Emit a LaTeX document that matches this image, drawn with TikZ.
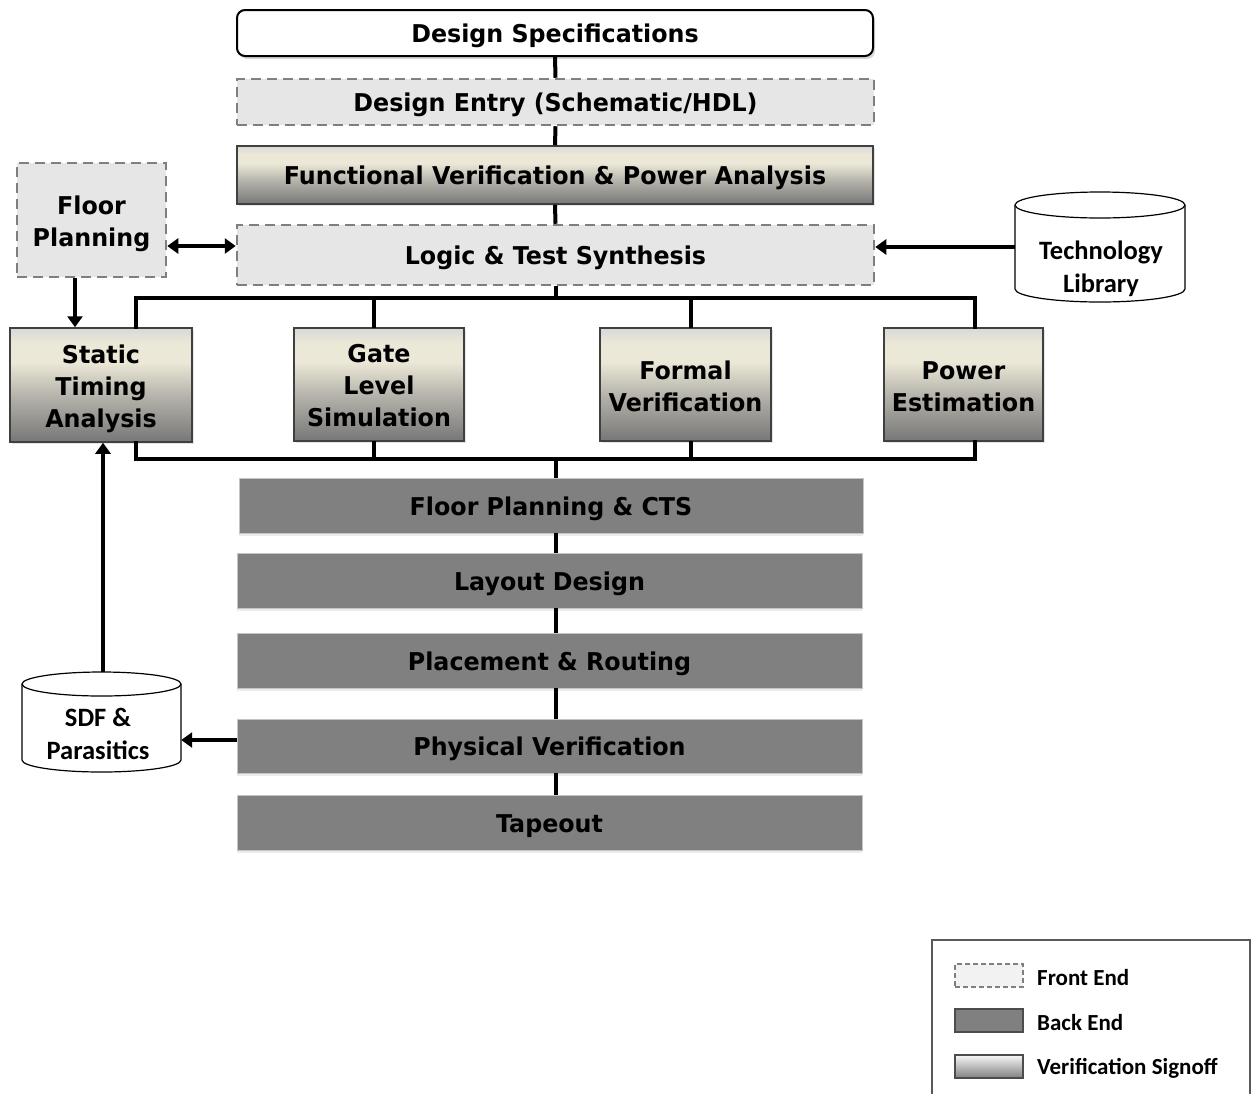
\documentclass[tikz,border=0pt]{standalone}
\usepackage{fontspec}
\newfontfamily\bxfont[FakeStretch=0.97]{DejaVu Sans}
\newfontfamily\calfont{Carlito}
\usetikzlibrary{arrows.meta,shadows}

\definecolor{fegray}{HTML}{E6E6E6}
\definecolor{dashgray}{HTML}{7F7F7F}
\definecolor{begray}{HTML}{808080}
\definecolor{beedge}{HTML}{C4C4C4}
\definecolor{vtop}{HTML}{D8D8D8}
\definecolor{vcream}{HTML}{ECE8D7}
\definecolor{vmid}{HTML}{B4B2AA}
\definecolor{vbot}{HTML}{777777}

% vertical sign-off shading: light grey top, cream band, dark grey bottom
\pgfdeclareverticalshading{vsig}{100bp}{
  color(0bp)=(vbot); color(25bp)=(vbot); color(45bp)=(vmid);
  color(60bp)=(vcream); color(68bp)=(vcream); color(75bp)=(vtop); color(100bp)=(vtop)}

% invisible struts that lower the first text line a little inside its box
\newcommand\lowerstrut{\rule{0pt}{24.5pt}}
\newcommand\firstline[1]{\rule{0pt}{#1}}

\tikzset{
  lbl/.style={font=\bxfont\bfseries\fontsize{24.5}{32}\selectfont, align=center,
    text=black, inner sep=0pt},
  onelbl/.style={execute at begin node=\lowerstrut},
  specbox/.style={lbl, onelbl, fill=white, draw=black, line width=2pt, rounded corners=8pt,
    drop shadow={shadow xshift=2pt, shadow yshift=-3pt, fill=black!30}},
  frontbox/.style={lbl, fill=fegray, draw=dashgray, line width=2.5pt,
    dash pattern=on 10pt off 6pt},
  verbox/.style={lbl, shade, shading=vsig, draw=black!75, line width=1.5pt,
    drop shadow={shadow xshift=2pt, shadow yshift=-2pt, fill=black!20}},
  backbox/.style={lbl, onelbl, fill=begray, draw=beedge, line width=1pt,
    drop shadow={shadow xshift=0pt, shadow yshift=-3pt, fill=black!15}},
  dbtext/.style={font=\calfont\bfseries\fontsize{26.5}{33}\selectfont, align=center,
    inner sep=0pt},
  dbline/.style={draw=black, line width=1.2pt},
  wire/.style={line width=4pt},
  arr/.style={line width=3.5pt, -{Triangle[length=11pt,width=15pt]}},
  darr/.style={line width=3.5pt, {Triangle[length=11pt,width=15pt]}-{Triangle[length=11pt,width=15pt]}},
  legtext/.style={font=\calfont\bfseries\fontsize{23}{27}\selectfont, anchor=west, inner sep=0pt},
}

\begin{document}
\begin{tikzpicture}[x=1pt,y=1pt]
\useasboundingbox (0,0) rectangle (1257,-1093);

% front-end flow
\node[specbox, minimum width=636pt, minimum height=46pt] (spec) at (555,-33) {Design Specifications};
\node[frontbox, onelbl, minimum width=637pt, minimum height=46pt] (entry) at (555.5,-102) {Design Entry (Schematic/HDL)};
\node[verbox, onelbl, minimum width=636pt, minimum height=58pt] (func) at (555,-175) {Functional Verification \& Power Analysis};
\node[frontbox, onelbl, minimum width=637pt, minimum height=60pt] (logic) at (555.5,-255) {Logic \& Test Synthesis};
\node[frontbox, minimum width=149pt, minimum height=114pt] (fp) at (91.5,-220) {\firstline{26pt}Floor\\Planning};

% sign-off checks
\node[verbox, minimum width=182pt, minimum height=114pt] (sta) at (101,-385) {\firstline{26pt}Static\\Timing\\Analysis};
\node[verbox, minimum width=170pt, minimum height=113pt] (gls) at (379,-384.5) {\firstline{20pt}Gate\\Level\\Simulation};
\node[verbox, minimum width=171pt, minimum height=113pt] (fv) at (685.5,-384.5) {\firstline{22pt}Formal\\Verification};
\node[verbox, minimum width=159pt, minimum height=113pt] (pe) at (963.5,-384.5) {\firstline{22pt}Power\\Estimation};

% back-end flow
\node[backbox, minimum width=624pt, minimum height=55pt] (cts) at (551,-505.5) {Floor Planning \& CTS};
\node[backbox, minimum width=625pt, minimum height=55pt] (layout) at (549.5,-580.5) {Layout Design};
\node[backbox, minimum width=625pt, minimum height=55pt] (pr) at (549.5,-660.5) {Placement \& Routing};
\node[backbox, minimum width=625pt, minimum height=54pt] (pv) at (549.5,-746) {Physical Verification};
\node[backbox, minimum width=625pt, minimum height=55pt] (tape) at (549.5,-822.5) {Tapeout};

% databases (cylinders)
\node[minimum width=170pt, minimum height=110pt, inner sep=0pt] (tech) at (1100,-247) {};
\draw[dbline] (1100,-205) ellipse [x radius=85pt, y radius=13pt];
\draw[dbline] (1015,-205) -- (1015,-289) arc[start angle=180, end angle=360, x radius=85pt, y radius=13pt] -- (1185,-205);
\node[dbtext] (techtxt) at (1101,-268.5) {Technology\\Library};

\node[minimum width=159pt, minimum height=100pt, inner sep=0pt] (sdf) at (101.5,-722) {};
\draw[dbline] (101.5,-684) ellipse [x radius=79.5pt, y radius=12pt];
\draw[dbline] (22,-684) -- (22,-760) arc[start angle=180, end angle=360, x radius=79.5pt, y radius=12pt] -- (181,-684);
\node[dbtext] (sdftxt) at (98,-734) {SDF \&\\Parasitics};

% main spine
\draw[wire] (spec.south) -- (entry.north);
\draw[wire] (entry.south) -- (func.north);
\draw[wire] (func.south) -- (logic.north);

% fan-out bus to sign-off checks
\coordinate (tl) at (136,-298);
\coordinate (tr) at (975,-298);
\coordinate (bl) at (136,-459);
\coordinate (br) at (975,-459);
\draw[wire] (logic.south) -- (logic.south |- tl);
\draw[wire, line cap=rect] (tl |- sta.north) -- (tl) -- (tr) -- (tr |- pe.north);
\draw[wire] (374,-298) -- (374,-328) coordinate (gtop);
\draw[wire] (691,-298) -- (691,-328) coordinate (ftop);
\draw[wire, line cap=rect] (bl |- sta.south) -- (bl) -- (br) -- (br |- pe.south);
\draw[wire] (374,-441) -- (374,-459);
\draw[wire] (691,-441) -- (691,-459);
\draw[wire] (556,-459) -- (556,-478);

% back-end spine
\draw[wire] (556,-533) -- (556,-553);
\draw[wire] (556,-608) -- (556,-633);
\draw[wire] (556,-688) -- (556,-719);
\draw[wire] (556,-773) -- (556,-795);

% side arrows
\draw[darr] (fp.east |- 0,-246) -- (logic.west |- 0,-246);
\draw[arr] (tech.west) -- (tech.west -| logic.east);
\draw[arr] (fp.south -| 75,0) -- (sta.north -| 75,0);
\draw[arr] (sdf.north -| 103,0) -- (sta.south -| 103,0);
\draw[arr] (pv.west |- 0,-740) -- (sdf.east |- 0,-740);

% legend
\draw[draw=black!65, line width=1.2pt] (932,-1100) -- (932,-940) -- (1250,-940) -- (1250,-1100);
\node[fill=black!5, draw=dashgray, line width=1.2pt, dash pattern=on 5pt off 3pt,
      minimum width=68pt, minimum height=23pt, inner sep=0pt] (kfront) at (989,-975.5) {};
\node[fill=begray, draw=black!70, line width=1.2pt,
      minimum width=68pt, minimum height=23pt, inner sep=0pt] (kback) at (989,-1020.5) {};
\node[top color=black!3, bottom color=black!50, draw=black!70, line width=1.2pt,
      minimum width=68pt, minimum height=23pt, inner sep=0pt] (kverif) at (989,-1066.5) {};
\node[legtext] (tfront) at (1037,-977) {Front End};
\node[legtext] (tback) at (1037,-1022) {Back End};
\node[legtext] (tverif) at (1037,-1068) {Verification Signoff};
\end{tikzpicture}
\end{document}
